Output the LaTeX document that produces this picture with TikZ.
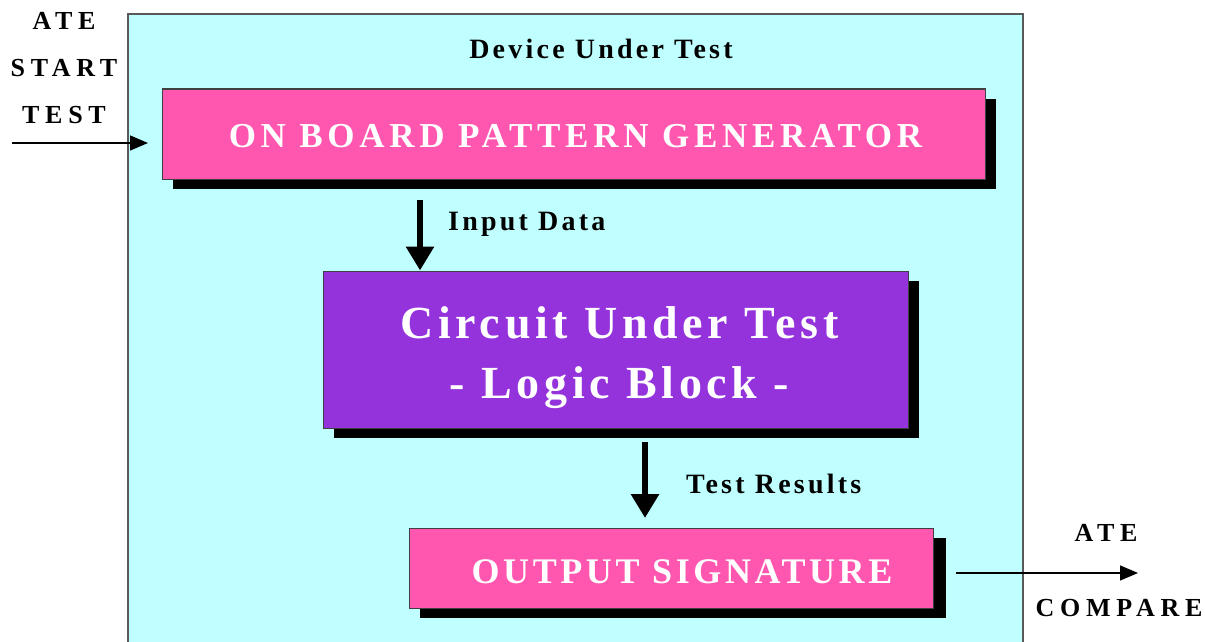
\documentclass[tikz,border=0pt]{standalone}
\usepackage{fontspec}
\setmainfont{Liberation Serif}
\newfontfamily\pgfont{Liberation Serif}[LetterSpace=13.5]
\newfontfamily\cutfont{Liberation Serif}[LetterSpace=10.2]
\newfontfamily\osfont{Liberation Serif}[LetterSpace=10]
\newfontfamily\lblfont{Liberation Serif}[LetterSpace=11.5]
\newfontfamily\atefont{Liberation Serif}[LetterSpace=22]
\usetikzlibrary{arrows.meta,shadows}
\definecolor{cyanbg}{HTML}{C0FFFF}
\definecolor{pinkbox}{HTML}{FF57AF}
\definecolor{purplebox}{HTML}{9433DC}
\begin{document}
\begin{tikzpicture}[x=1pt,y=-1pt,
  blockbox/.style={draw=black!75, line width=1pt, inner sep=0pt,
    drop shadow={shadow xshift=11pt, shadow yshift=-10pt, fill=black, opacity=1}},
  boxtext/.style={text=white, inner sep=0pt, align=center},
  bigarrow/.style={line width=6pt, -{Triangle[length=24pt,width=27pt]}},
  thinarrow/.style={line width=1.5pt, -{Triangle[length=18pt,width=15pt]}},
  smalllbl/.style={font=\lblfont\bfseries\fontsize{28}{34}\selectfont, inner sep=0pt},
  atelbl/.style={font=\atefont\bfseries\fontsize{26}{47}\selectfont, inner sep=0pt, align=center}
]
\useasboundingbox (0,0) rectangle (1205,642);
\clip (0,0) rectangle (1205,642);
\fill[white] (0,0) rectangle (1205,642);

% outer device box
\node[draw=black!65, line width=2pt, fill=cyanbg, minimum width=895pt, minimum height=680pt,
  anchor=north west, inner sep=0pt] (dut) at (127,13) {};
\node[smalllbl] (dutlbl) at (601,48.5) {Device Under Test};

% blocks
\node[blockbox, fill=pinkbox, minimum width=823pt, minimum height=90pt] (pg) at (573.5,134)
  {};
\node[boxtext, font=\pgfont\bfseries\fontsize{35}{42}\selectfont] (pgtext) at ([xshift=2pt,yshift=-2.5pt]pg.center)
  {ON BOARD PATTERN GENERATOR};
\node[blockbox, fill=purplebox, minimum width=585pt, minimum height=157pt] (cut) at (615.5,349.5) {};
\node[boxtext, font=\cutfont\bfseries\fontsize{46}{60}\selectfont] (cuttext) at ([xshift=4pt,yshift=-8.5pt]cut.center)
  {Circuit Under Test\\- Logic Block -};
\node[blockbox, fill=pinkbox, minimum width=524pt, minimum height=80pt,
  drop shadow={shadow xshift=13pt, shadow yshift=-10pt, fill=black, opacity=1}] (os) at (671,568) {};
\node[boxtext, font=\osfont\bfseries\fontsize{36}{42}\selectfont] (ostext) at ([xshift=11pt,yshift=-3.5pt]os.center)
  {OUTPUT SIGNATURE};

% internal arrows
\coordinate (a1s) at (420,200);
\draw[bigarrow] (a1s) -- (a1s |- cut.north);
\node[smalllbl, anchor=west] (inlbl) at (448,224) {Input Data};
\coordinate (a2s) at (645,442);
\coordinate (a2e) at (645,518);
\draw[bigarrow] (a2s) -- (a2e);
\node[smalllbl, anchor=west] (trlbl) at (686,483.5) {Test Results};

% external arrows
\coordinate (instart) at (12,143);
\coordinate (inend) at (148,143);
\draw[thinarrow] (instart) -- (inend);
\node[atelbl] (atestart) at (64,68) {ATE\\START\\TEST};

\coordinate (outstart) at (956,573);
\coordinate (outend) at (1138,573);
\draw[thinarrow] (outstart) -- (outend);
\node[atelbl] (ateup) at (1106,532.5) {ATE};
\node[atelbl] (atecmp) at (1119,608) {COMPARE};
\end{tikzpicture}
\end{document}
